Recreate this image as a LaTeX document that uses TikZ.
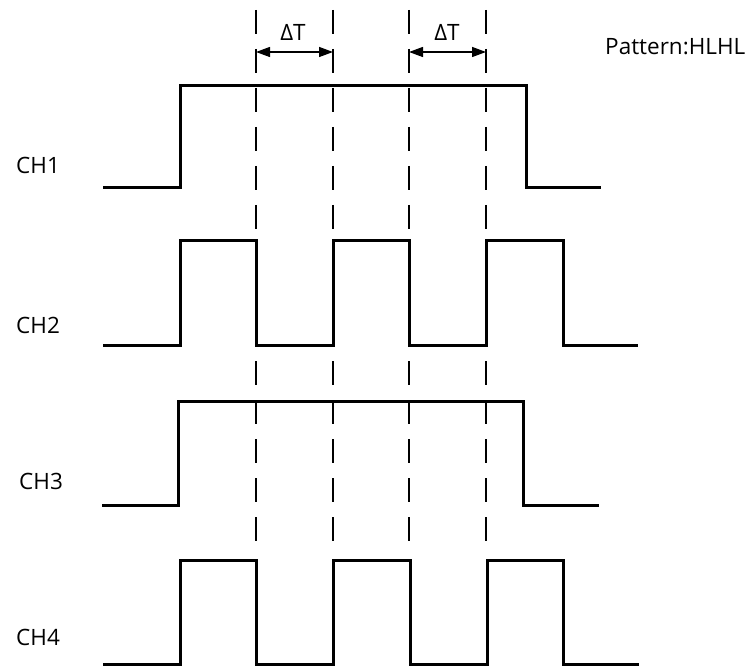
\documentclass[tikz,border=0pt]{standalone}
\usepackage{fontspec}
\setmainfont{Open Sans}
\usetikzlibrary{arrows.meta}
\begin{document}
\begin{tikzpicture}[x=1pt,y=-1pt,
  sig/.style={line width=3pt, line join=miter, line cap=butt},
  guide/.style={line width=1.3pt, dash pattern=on 24pt off 15pt},
  dim/.style={line width=1.3pt, {Triangle[length=14pt,width=10pt]}-{Triangle[length=14pt,width=10pt]}},
  lbl/.style={font=\fontsize{22.5}{27}\selectfont, inner sep=0pt}]
\useasboundingbox (0,0) rectangle (752,668);

% guide coordinates
\coordinate (atop) at (256,10); \coordinate (abot) at (256,555); \coordinate (aarr) at (256,52);
\coordinate (btop) at (333,10); \coordinate (bbot) at (333,555); \coordinate (barr) at (333,52);
\coordinate (ctop) at (409,10); \coordinate (cbot) at (409,555); \coordinate (carr) at (409,52);
\coordinate (dtop) at (486,10); \coordinate (dbot) at (486,555); \coordinate (darr) at (486,52);
\draw[guide] (atop) -- (abot);
\draw[guide] (btop) -- (bbot);
\draw[guide] (ctop) -- (cbot);
\draw[guide] (dtop) -- (dbot);

\draw[dim] (aarr) -- (barr);
\draw[dim] (carr) -- (darr);
\node[lbl, anchor=base] (dt1) at (293,41) {ΔT};
\node[lbl, anchor=base] (dt2) at (447,41) {ΔT};
\node[lbl, anchor=base west] (pat) at (605,55) {Pattern:HLHL};

% signals
\draw[sig] (103,188) -- (180,188) -- (180,86) -- (526,86) -- (526,188) -- (601,188);
\draw[sig] (103,345) -- (180,345) -- (180,241) -- (256,241) -- (256,345) -- (333,345) -- (333,241) -- (409,241) -- (409,345) -- (486,345) -- (486,241) -- (563,241) -- (563,345) -- (638,345);
\draw[sig] (102,505) -- (178,505) -- (178,401) -- (523,401) -- (523,505) -- (599,505);
\draw[sig] (103,664) -- (180,664) -- (180,560) -- (256,560) -- (256,664) -- (333,664) -- (333,560) -- (410,560) -- (410,664) -- (487,664) -- (487,560) -- (563,560) -- (563,664) -- (639,664);

\node[lbl, anchor=base west] (ch1) at (16,174) {CH1};
\node[lbl, anchor=base west] (ch2) at (16,333) {CH2};
\node[lbl, anchor=base west] (ch3) at (19,489) {CH3};
\node[lbl, anchor=base west] (ch4) at (16,645) {CH4};
\end{tikzpicture}
\end{document}
